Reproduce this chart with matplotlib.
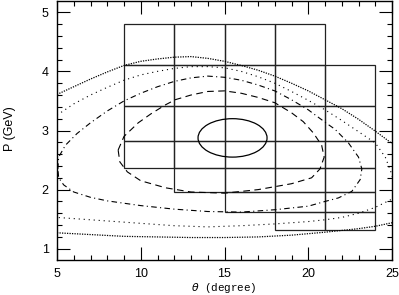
import matplotlib
matplotlib.use("Agg")
import matplotlib.pyplot as plt
from matplotlib.patches import Rectangle, Ellipse
from matplotlib.ticker import MultipleLocator

# ---- data ----
theta_edges = [9, 12, 15, 18, 21, 24]
p_edges_cols = [
    [2.36, 2.83, 3.42, 4.1, 4.8],
    [1.96, 2.36, 2.83, 3.42, 4.1, 4.8],
    [1.63, 1.96, 2.36, 2.83, 3.42, 4.1, 4.8],
    [1.31, 1.63, 1.96, 2.36, 2.83, 3.42, 4.1, 4.8],
    [1.31, 1.63, 1.96, 2.36, 2.83, 3.42, 4.1],
]

# outermost contour (fine dotted): upper and lower branches
fine_top_theta = [5, 6, 7, 8, 9, 10, 11, 12, 13, 14, 15, 16, 17, 18, 19, 20, 21, 22, 23, 24, 25]
fine_top_p = [3.61, 3.74, 3.87, 3.99, 4.10, 4.17, 4.21, 4.24, 4.25, 4.22, 4.17, 4.10, 4.02, 3.92, 3.80, 3.67, 3.52, 3.37, 3.19, 2.99, 2.78]
fine_bot_theta = [5, 7, 9, 11, 13, 15, 17, 19, 21, 23, 24, 25]
fine_bot_p = [1.27, 1.24, 1.21, 1.20, 1.19, 1.19, 1.20, 1.23, 1.28, 1.34, 1.38, 1.44]

# second contour (sparse dotted)
sparse_theta = [5, 6, 7, 8, 9, 10, 11, 12, 13, 14, 15, 16, 17, 18, 19, 20, 21, 22, 23, 24,
                24.6, 25.0, 25.15, 25.0, 24, 23, 22, 21, 20, 18, 16, 14, 12, 10, 8, 6, 5]
sparse_p = [3.26, 3.45, 3.60, 3.73, 3.85, 3.94, 4.00, 4.05, 4.08, 4.08, 4.06, 4.00, 3.91, 3.80, 3.66, 3.51, 3.35, 3.17, 2.98, 2.79,
            2.55, 2.25, 2.00, 1.84, 1.70, 1.60, 1.53, 1.49, 1.46, 1.42, 1.39, 1.37, 1.39, 1.43, 1.47, 1.51, 1.53]

# third contour (dash-dot)
dd_theta = [5.05, 5.1, 5.5, 6.2, 7, 8, 9, 10, 11, 12, 13, 14, 15, 16, 17, 18, 19, 20, 21, 21.6, 22.4, 23.0, 23.2, 23.1,
            22.6, 21.8, 21, 20, 18, 16, 14, 12, 10, 8, 7, 6, 5.4, 5.1, 5.05]
dd_p = [2.35, 2.55, 2.75, 2.95, 3.13, 3.33, 3.50, 3.63, 3.74, 3.83, 3.89, 3.92, 3.90, 3.85, 3.77, 3.67, 3.52, 3.35, 3.14, 3.02, 2.79, 2.55, 2.35, 2.17,
        1.97, 1.86, 1.80, 1.72, 1.66, 1.62, 1.63, 1.67, 1.73, 1.81, 1.87, 1.96, 2.08, 2.20, 2.35]

# fourth contour (dashed)
dash_theta = [8.65, 9.0, 9.85, 10.6, 11.45, 12.05, 13, 14, 15, 16, 17, 18, 19, 19.7, 20.3, 20.8, 20.95, 20.7, 20.2,
              19, 17, 15, 13, 11.5, 10, 9.2, 8.75, 8.65]
dash_p = [2.67, 2.90, 3.13, 3.28, 3.43, 3.52, 3.60, 3.66, 3.67, 3.63, 3.56, 3.47, 3.30, 3.15, 2.96, 2.75, 2.55, 2.35, 2.20,
          2.10, 2.00, 1.94, 1.96, 2.03, 2.15, 2.30, 2.47, 2.67]

# innermost contour (solid ellipse)
ell_center = (15.48, 2.875)
ell_width = 4.12
ell_height = 0.65

# ---- plot ----
fig = plt.figure(figsize=(3.99, 2.95), dpi=100)
ax = fig.add_axes([57 / 399, 35 / 295, 335 / 399, 259 / 295])

lc = "#222222"
for i in range(len(theta_edges) - 1):
    t0, t1 = theta_edges[i], theta_edges[i + 1]
    edges = p_edges_cols[i]
    for j in range(len(edges) - 1):
        ax.add_patch(Rectangle((t0, edges[j]), t1 - t0, edges[j + 1] - edges[j],
                               fill=False, edgecolor=lc, lw=0.9))

ax.plot(fine_top_theta, fine_top_p, color="black", lw=0.9, dashes=(1, 1))
ax.plot(fine_bot_theta, fine_bot_p, color="black", lw=0.9, dashes=(1, 1))
ax.plot(sparse_theta, sparse_p, color="black", lw=0.8, dashes=(1, 3.5))
ax.plot(dd_theta, dd_p, color="black", lw=0.8, dashes=(5, 3, 1, 3))
ax.plot(dash_theta, dash_p, color="black", lw=0.8, dashes=(6, 4))
ax.add_patch(Ellipse(ell_center, ell_width, ell_height, fill=False, edgecolor="black", lw=0.9))

ax.set_xlim(5, 25)
ax.set_ylim(0.81, 5.19)
ax.xaxis.set_major_locator(MultipleLocator(5))
ax.xaxis.set_minor_locator(MultipleLocator(1))
ax.yaxis.set_major_locator(MultipleLocator(1))
ax.yaxis.set_minor_locator(MultipleLocator(0.2))
ax.tick_params(which="both", direction="in", top=True, right=True, width=0.8,
               labelsize=9, pad=6)
ax.tick_params(which="major", length=9.4)
ax.tick_params(which="minor", length=3.6)
for s in ax.spines.values():
    s.set_linewidth(1.0)
for lab in ax.get_xticklabels() + ax.get_yticklabels():
    lab.set_family("Liberation Sans")

fig.text(224 / 399, 1 - 288 / 295, r"$\theta$ (degree)", ha="center", va="center",
         family="Liberation Mono", fontsize=7.8)
fig.text(10 / 399, 1 - 129 / 295, "P (GeV)", ha="center", va="center", rotation=90,
         family="Liberation Sans", fontsize=9)

fig.savefig("out.png", dpi=100)
